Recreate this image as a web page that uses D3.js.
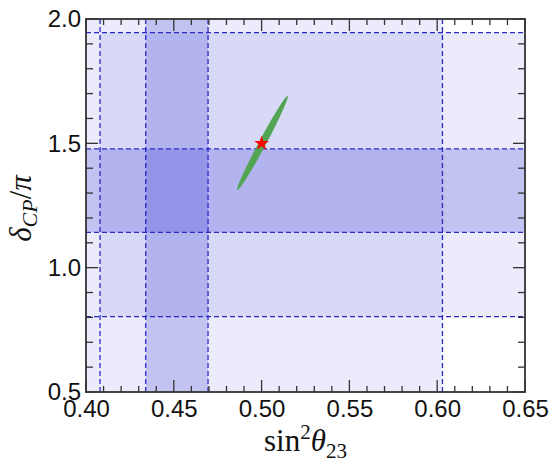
<!DOCTYPE html>
<html>
<head>
<meta charset="utf-8">
<script src="https://cdn.jsdelivr.net/npm/d3@7"></script>
<style>
  html, body { margin: 0; padding: 0; background: #fff; }
  svg { display: block; }
</style>
</head>
<body>
<svg id="chart" width="553" height="469"></svg>
<script>
// Allowed ranges of sin^2(theta23) and delta_CP/pi shown as shaded bands
const sin2Bands = [
  { lo: 0.400, hi: 0.603, level: "3sigma" },
  { lo: 0.434, hi: 0.4695, level: "1sigma" }
];
const deltaBands = [
  { lo: 0.803, hi: 1.945, from: 0.408, level: "3sigma" },
  { lo: 1.142, hi: 1.478, from: 0.400, level: "1sigma" }
];
// Dashed boundary lines
const sin2Edges = [0.408, 0.434, 0.4695, 0.603];
const deltaEdges = [0.803, 1.142, 1.478, 1.945];
// Predicted region: long axis end points (sin2, delta/pi)
const predictionEnds = [[0.4862, 1.312], [0.5148, 1.690]];
// Best-fit point
const bestFit = [0.500, 1.500];
// Axis ticks
const xTickLabels = [0.40, 0.45, 0.50, 0.55, 0.60, 0.65];
const yTickLabels = [0.5, 1.0, 1.5, 2.0];

const W = 553, H = 469;
const margin = { top: 19, right: 28, bottom: 77, left: 86 };
const iw = W - margin.left - margin.right;
const ih = H - margin.top - margin.bottom;

const svg = d3.select("#chart");
const g = svg.append("g").attr("transform", `translate(${margin.left},${margin.top})`);

const x = d3.scaleLinear().domain([0.40, 0.65]).range([0, iw]);
const y = d3.scaleLinear().domain([0.5, 2.0]).range([ih, 0]);

const bandColor = "#0000cc";
const alpha = { "3sigma": 0.078, "1sigma": 0.17 };

g.append("defs").append("clipPath").attr("id", "plotClip")
  .append("rect").attr("width", iw).attr("height", ih);

const area = g.append("g").attr("clip-path", "url(#plotClip)");

// vertical bands
area.selectAll("rect.vband").data(sin2Bands).join("rect")
  .attr("class", "vband")
  .attr("x", d => x(d.lo))
  .attr("width", d => x(d.hi) - x(d.lo))
  .attr("y", y(2.0))
  .attr("height", y(0.5) - y(2.0))
  .attr("fill", bandColor)
  .attr("fill-opacity", d => alpha[d.level]);

// horizontal bands
area.selectAll("rect.hband").data(deltaBands).join("rect")
  .attr("class", "hband")
  .attr("x", d => x(d.from))
  .attr("width", d => x(0.65) - x(d.from))
  .attr("y", d => y(d.hi))
  .attr("height", d => y(d.lo) - y(d.hi))
  .attr("fill", bandColor)
  .attr("fill-opacity", d => alpha[d.level]);

// dashed lines
const dashStyle = sel => sel
  .attr("stroke", "#2a2ac4")
  .attr("stroke-width", 1.3)
  .attr("stroke-dasharray", "5,3")
  .attr("fill", "none");

area.selectAll("line.vedge").data(sin2Edges).join("line")
  .attr("class", "vedge")
  .attr("x1", d => x(d)).attr("x2", d => x(d))
  .attr("y1", 0).attr("y2", ih)
  .call(dashStyle);

area.selectAll("line.hedge").data(deltaEdges).join("line")
  .attr("class", "hedge")
  .attr("y1", d => y(d)).attr("y2", d => y(d))
  .attr("x1", 0).attr("x2", iw)
  .call(dashStyle);

// predicted region drawn as a thin ellipse along its long axis
{
  const [p0, p1] = predictionEnds.map(d => [x(d[0]), y(d[1])]);
  const cx = (p0[0] + p1[0]) / 2, cy = (p0[1] + p1[1]) / 2;
  const len = Math.hypot(p1[0] - p0[0], p1[1] - p0[1]);
  const ang = Math.atan2(p1[1] - p0[1], p1[0] - p0[0]) * 180 / Math.PI;
  area.append("ellipse")
    .attr("cx", cx).attr("cy", cy)
    .attr("rx", len / 2).attr("ry", 3.6)
    .attr("transform", `rotate(${ang},${cx},${cy})`)
    .attr("fill", "#52a552");
}

// best-fit star
g.append("path")
  .attr("d", d3.symbol().type(d3.symbolStar).size(70)())
  .attr("transform", `translate(${x(bestFit[0])},${y(bestFit[1])})`)
  .attr("fill", "#ff0000");

// ticks on all four sides, pointing inward
const frameColor = "#333";
const xMinor = d3.range(0.40, 0.6501, 0.01);
const yMinor = d3.range(0.5, 2.0001, 0.1);
const isMajorX = v => Math.abs(v * 20 - Math.round(v * 20)) < 1e-6;
const isMajorY = v => Math.abs(v * 2 - Math.round(v * 2)) < 1e-6;
const tickG = g.append("g").attr("stroke", frameColor).attr("stroke-width", 1.3);

xMinor.forEach(v => {
  const L = isMajorX(v) ? 12 : 6;
  tickG.append("line").attr("x1", x(v)).attr("x2", x(v)).attr("y1", ih).attr("y2", ih - L);
  tickG.append("line").attr("x1", x(v)).attr("x2", x(v)).attr("y1", 0).attr("y2", L);
});
yMinor.forEach(v => {
  const L = isMajorY(v) ? 12 : 7;
  tickG.append("line").attr("y1", y(v)).attr("y2", y(v)).attr("x1", 0).attr("x2", L);
  tickG.append("line").attr("y1", y(v)).attr("y2", y(v)).attr("x1", iw).attr("x2", iw - L);
});

// frame
g.append("rect")
  .attr("width", iw).attr("height", ih)
  .attr("fill", "none")
  .attr("stroke", frameColor)
  .attr("stroke-width", 1.8);

// tick labels via d3 axes (tick lines hidden, ticks drawn above)
const xAxis = d3.axisBottom(x).tickValues(xTickLabels).tickFormat(d3.format(".2f")).tickSize(0).tickPadding(8);
const yAxis = d3.axisLeft(y).tickValues(yTickLabels).tickFormat(d3.format(".1f")).tickSize(0).tickPadding(5);

const xa = g.append("g").attr("transform", `translate(0,${ih})`).call(xAxis);
const ya = g.append("g").call(yAxis);
[xa, ya].forEach(a => {
  a.select(".domain").remove();
  a.selectAll("text")
    .attr("fill", "#111")
    .style("font-family", "'Liberation Sans', Arial, sans-serif")
    .style("font-size", "24px");
});

// axis titles
svg.append("text")
  .attr("x", margin.left + iw / 2)
  .attr("y", 451)
  .attr("text-anchor", "middle")
  .style("font-family", "'Liberation Serif', 'Times New Roman', serif")
  .style("font-size", "31px")
  .attr("fill", "#111")
  .call(t => {
    t.append("tspan").text("sin");
    t.append("tspan").attr("dy", -12).style("font-size", "21px").text("2");
    t.append("tspan").attr("dy", 12).style("font-style", "italic").text("θ");
    t.append("tspan").attr("dy", 7).style("font-size", "21px").text("23");
  });

svg.append("text")
  .attr("transform", `translate(31,${margin.top + ih / 2 + 3}) rotate(-90)`)
  .attr("text-anchor", "middle")
  .style("font-family", "'Liberation Serif', 'Times New Roman', serif")
  .style("font-size", "31px")
  .attr("fill", "#111")
  .call(t => {
    t.append("tspan").style("font-style", "italic").text("δ");
    t.append("tspan").attr("dy", 6).style("font-size", "22px").style("font-style", "italic").text("CP");
    t.append("tspan").attr("dy", -6).text("/");
    t.append("tspan").style("font-style", "italic").text("π");
  });
</script>
</body>
</html>
